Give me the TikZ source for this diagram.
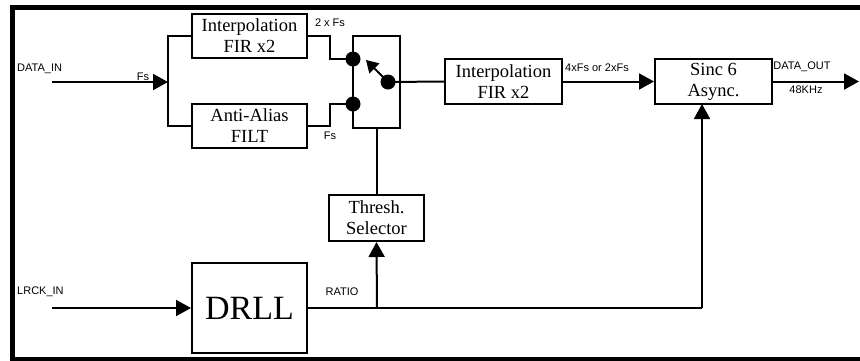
\documentclass[tikz,border=0pt]{standalone}
\usepackage{fontspec}
\setmainfont{Liberation Serif}
\newfontfamily\labfont{Liberation Sans}
\usetikzlibrary{arrows.meta}
\tikzset{
  blk/.style={draw, line width=2pt, rectangle, inner sep=0pt, align=center,
    font=\fontsize{18.5}{21}\selectfont},
  wire/.style={line width=2pt},
  arr/.style={line width=2pt, -{Triangle[length=15pt,width=16pt]}},
  smallarr/.style={line width=2pt, -{Triangle[length=12pt,width=14pt]}},
  lbl/.style={font=\labfont\fontsize{11}{12}\selectfont, inner sep=0pt},
  dot/.style={circle, fill=black, minimum size=15pt, inner sep=0pt}
}
\begin{document}
\begin{tikzpicture}[x=1pt,y=-1pt]
\useasboundingbox (0,0) rectangle (860,360);
\begin{scope}
  \clip (0,0) rectangle (860,360);
  \draw[line width=5pt] (12.5,7.5) rectangle (880,359.5);
\end{scope}

% blocks
\node[blk, minimum width=115pt, minimum height=44pt] (fir1) at (249.5,36) {Interpolation\\FIR x2};
\node[blk, minimum width=115pt, minimum height=44pt] (aaf) at (249.5,126) {Anti-Alias\\FILT};
\node[draw, line width=2pt, rectangle, minimum width=47pt, minimum height=92pt, inner sep=0pt] (sw) at (376.5,82) {};
\node[blk, minimum width=117pt, minimum height=45pt] (fir2) at (503.5,81.5) {Interpolation\\FIR x2};
\node[blk, minimum width=117pt, minimum height=45pt] (sinc) at (713.5,81.5) {Sinc 6\\Async.};
\node[blk, minimum width=95pt, minimum height=46pt] (thr) at (376.5,218) {Thresh.\\Selector};
\node[blk, minimum width=115pt, minimum height=90pt, font=\fontsize{34}{36}\selectfont] (drll) at (249.5,308) {DRLL};

% coordinates
\coordinate (din) at (52,82);
\coordinate (split) at (168,82);
\coordinate (lin) at (52,308);
\coordinate (sincin) at (702,104);
\coordinate (dout) at (859,81.5);
\coordinate (ratiob) at (377,308);

% switch dots
\node[dot] (d1) at (353,59) {};
\node[dot] (d2) at (353,104) {};
\node[dot] (d3) at (388,82) {};
\coordinate (swtip) at (366,60);

% connectors
\draw[arr] (din) -- (split);
\draw[wire] (fir1.west) -| (split) |- (aaf.west);
\draw[wire] (fir1.east) -- (330,36) |- (d1.center);
\draw[wire] (aaf.east) -- (330,126) |- (d2.center);
\draw[smallarr] (d3.center) -- (swtip);
\draw[wire] (d3.center) -- (fir2.west);
\draw[arr] (fir2.east) -- (sinc.west);
\draw[arr] (sinc.east) -- (dout);
\draw[arr] (lin) -- (drll.west);
\draw[wire] (drll.east) -- (drll.east -| sincin);
\draw[arr] (drll.east -| sincin) -- (sincin);
\draw[arr] (ratiob) -- (thr.south);
\draw[wire] (thr.north) -- (sw.south);

% labels
\node[lbl, anchor=west] (l1) at (17,68.5) {DATA\_IN};
\node[lbl] (l2) at (143,77) {Fs};
\node[lbl] (l3) at (330,22.5) {2 x Fs};
\node[lbl] (l4) at (330,135.5) {Fs};
\node[lbl] (l5) at (597,68) {4xFs or 2xFs};
\node[lbl] (l6) at (802,67) {DATA\_OUT};
\node[lbl] (l7) at (806,89.5) {48KHz};
\node[lbl, anchor=west] (l8) at (17,292) {LRCK\_IN};
\node[lbl] (l9) at (342,292) {RATIO};
\end{tikzpicture}
\end{document}
